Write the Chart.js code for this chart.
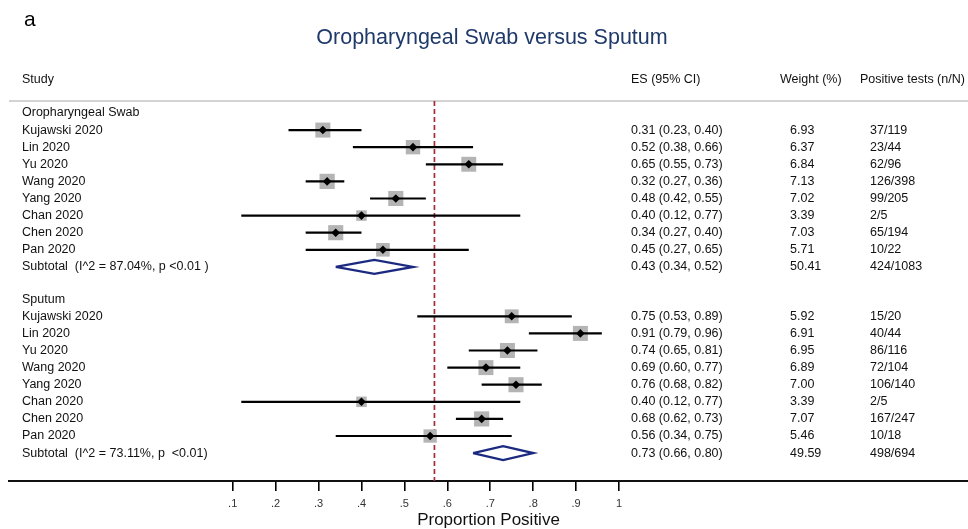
<!DOCTYPE html>
<html>
<head>
<meta charset="utf-8">
<title>Oropharyngeal Swab versus Sputum</title>
<script src="https://cdn.jsdelivr.net/npm/chart.js@4.4.1/dist/chart.umd.min.js"></script>
<style>
  html, body { margin: 0; padding: 0; background: #fff; }
  canvas { display: block; }
</style>
</head>
<body>
<canvas id="forest" width="968" height="529"></canvas>
<script>
const studies = ['Kujawski 2020', 'Lin 2020', 'Yu 2020', 'Wang 2020', 'Yang 2020', 'Chan 2020', 'Chen 2020', 'Pan 2020'];

const swabES     = [0.31, 0.52, 0.65, 0.32, 0.48, 0.40, 0.34, 0.45];
const swabLow    = [0.23, 0.38, 0.55, 0.27, 0.42, 0.12, 0.27, 0.27];
const swabHigh   = [0.40, 0.66, 0.73, 0.36, 0.55, 0.77, 0.40, 0.65];
const swabWeight = [6.93, 6.37, 6.84, 7.13, 7.02, 3.39, 7.03, 5.71];
const swabTests  = ['37/119', '23/44', '62/96', '126/398', '99/205', '2/5', '65/194', '10/22'];
const swabSubtotal = [0.43, 0.34, 0.52, 50.41];   // es, low, high, weight
const swabSubTests = '424/1083';
const swabSubLabel = 'Subtotal  (I^2 = 87.04%, p <0.01 )';

const sputumES     = [0.75, 0.91, 0.74, 0.69, 0.76, 0.40, 0.68, 0.56];
const sputumLow    = [0.53, 0.79, 0.65, 0.60, 0.68, 0.12, 0.62, 0.34];
const sputumHigh   = [0.89, 0.96, 0.81, 0.77, 0.82, 0.77, 0.73, 0.75];
const sputumWeight = [5.92, 6.91, 6.95, 6.89, 7.00, 3.39, 7.07, 5.46];
const sputumTests  = ['15/20', '40/44', '86/116', '72/104', '106/140', '2/5', '167/247', '10/18'];
const sputumSubtotal = [0.73, 0.66, 0.80, 49.59];
const sputumSubTests = '498/694';
const sputumSubLabel = 'Subtotal  (I^2 = 73.11%, p  <0.01)';

const overallES = 0.57;

const xTicks = [0.1, 0.2, 0.3, 0.4, 0.5, 0.6, 0.7, 0.8, 0.9, 1];
const xTickLabels = ['.1', '.2', '.3', '.4', '.5', '.6', '.7', '.8', '.9', '1'];

const FONT = '"Liberation Sans", Arial, Helvetica, sans-serif';

// y runs in "rows": header, 8 studies, subtotal; second block after a short gap
const Y_MIN = -0.70, Y_MAX = 21.52;
const groups = [
  { name: 'Oropharyngeal Swab', start: 0, es: swabES, lo: swabLow, hi: swabHigh, w: swabWeight, n: swabTests,
    sub: swabSubtotal, subN: swabSubTests, subLabel: swabSubLabel },
  { name: 'Sputum', start: 10.89, es: sputumES, lo: sputumLow, hi: sputumHigh, w: sputumWeight, n: sputumTests,
    sub: sputumSubtotal, subN: sputumSubTests, subLabel: sputumSubLabel }
];

const datasets = [];

// reference line at the overall estimate
datasets.push({
  data: [{ x: overallES, y: Y_MIN }, { x: overallES, y: Y_MAX }],
  showLine: true, borderColor: '#9e2f3a', borderWidth: 1.7, borderDash: [5, 3],
  pointRadius: 0, order: 5
});

groups.forEach(g => {
  // grey weight boxes (area ~ weight)
  datasets.push({
    data: studies.map((s, i) => ({ x: g.es[i], y: g.start + 1 + i })),
    pointStyle: 'rect',
    pointRadius: g.w.map(w => 4.03 * Math.sqrt(w)),
    backgroundColor: '#b4b4b4', borderWidth: 0, order: 4
  });
  // confidence intervals
  studies.forEach((s, i) => {
    const y = g.start + 1 + i;
    datasets.push({
      data: [{ x: g.lo[i], y: y }, { x: g.hi[i], y: y }],
      showLine: true, borderColor: '#000', borderWidth: 2.2, pointRadius: 0, order: 3
    });
  });
  // point estimates
  datasets.push({
    data: studies.map((s, i) => ({ x: g.es[i], y: g.start + 1 + i })),
    pointStyle: 'rectRot', pointRadius: 4.3,
    backgroundColor: '#000', borderWidth: 0, order: 1
  });
  // subtotal diamond
  const ys = g.start + 9, h = 0.41;
  const [es, lo, hi] = g.sub;
  datasets.push({
    data: [{ x: lo, y: ys }, { x: es, y: ys - h }, { x: hi, y: ys }, { x: es, y: ys + h }, { x: lo, y: ys }],
    showLine: true, borderColor: '#1b2a80', borderWidth: 2.4, borderJoinStyle: 'miter',
    pointRadius: 0, fill: false, order: 2
  });
});

const tableText = {
  id: 'tableText',
  beforeDatasetsDraw(chart) {
    const { ctx, chartArea } = chart;
    ctx.save();
    ctx.strokeStyle = '#c4c4c4';
    ctx.lineWidth = 1.6;
    ctx.beginPath();
    ctx.moveTo(chartArea.left, chartArea.top);
    ctx.lineTo(chartArea.right, chartArea.top);
    ctx.stroke();
    ctx.restore();
  },
  afterDraw(chart) {
    const { ctx } = chart;
    const yScale = chart.scales.y;
    ctx.save();
    ctx.textBaseline = 'middle';
    ctx.textAlign = 'left';

    ctx.fillStyle = '#000';
    ctx.font = '21px ' + FONT;
    ctx.fillText('a', 24, 20);

    ctx.fillStyle = '#1f3a6a';
    ctx.font = '21.5px ' + FONT;
    ctx.textAlign = 'center';
    ctx.fillText('Oropharyngeal Swab versus Sputum', 492, 38);

    ctx.textAlign = 'left';
    ctx.fillStyle = '#111';
    ctx.font = '12.5px ' + FONT;
    ctx.fillText('Study', 22, 80);
    ctx.fillText('ES (95% CI)', 631, 80);
    ctx.fillText('Weight (%)', 780, 80);
    ctx.fillText('Positive tests (n/N)', 860, 80);

    const f2 = v => v.toFixed(2);
    groups.forEach(g => {
      ctx.fillText(g.name, 22, yScale.getPixelForValue(g.start));
      studies.forEach((s, i) => {
        const y = yScale.getPixelForValue(g.start + 1 + i);
        ctx.fillText(s, 22, y);
        ctx.fillText(f2(g.es[i]) + ' (' + f2(g.lo[i]) + ', ' + f2(g.hi[i]) + ')', 631, y);
        ctx.fillText(f2(g.w[i]), 790, y);
        ctx.fillText(g.n[i], 870, y);
      });
      const ys = yScale.getPixelForValue(g.start + 9);
      const [es, lo, hi, w] = g.sub;
      ctx.fillText(g.subLabel, 22, ys);
      ctx.fillText(f2(es) + ' (' + f2(lo) + ', ' + f2(hi) + ')', 631, ys);
      ctx.fillText(f2(w), 790, ys);
      ctx.fillText(g.subN, 870, ys);
    });
    ctx.restore();
  }
};

new Chart(document.getElementById('forest'), {
  type: 'scatter',
  data: { datasets: datasets },
  options: {
    responsive: false,
    animation: false,
    events: [],
    devicePixelRatio: 1,
    layout: { autoPadding: false, padding: { top: 101, left: 9, right: 0, bottom: 0.5 } },
    plugins: {
      legend: { display: false },
      tooltip: { enabled: false },
      title: { display: false }
    },
    scales: {
      x: {
        type: 'linear',
        min: -0.4212,
        max: 1.8131,
        afterBuildTicks: scale => { scale.ticks = xTicks.map(v => ({ value: v })); },
        ticks: {
          autoSkip: false,
          maxRotation: 0,
          padding: 7,
          color: '#333',
          font: { family: FONT, size: 11, lineHeight: 1 },
          callback: (value, index) => xTickLabels[index]
        },
        grid: { drawOnChartArea: false, drawTicks: true, tickLength: 10, color: '#000', lineWidth: 1.6 },
        border: { display: true, color: '#111', width: 2 },
        title: {
          display: true,
          text: 'Proportion Positive',
          color: '#111',
          font: { family: FONT, size: 17, lineHeight: 1 },
          padding: { top: -4.5, bottom: 0 }
        }
      },
      y: {
        type: 'linear',
        min: Y_MIN,
        max: Y_MAX,
        reverse: true,
        display: false
      }
    }
  },
  plugins: [tableText]
});
</script>
</body>
</html>
